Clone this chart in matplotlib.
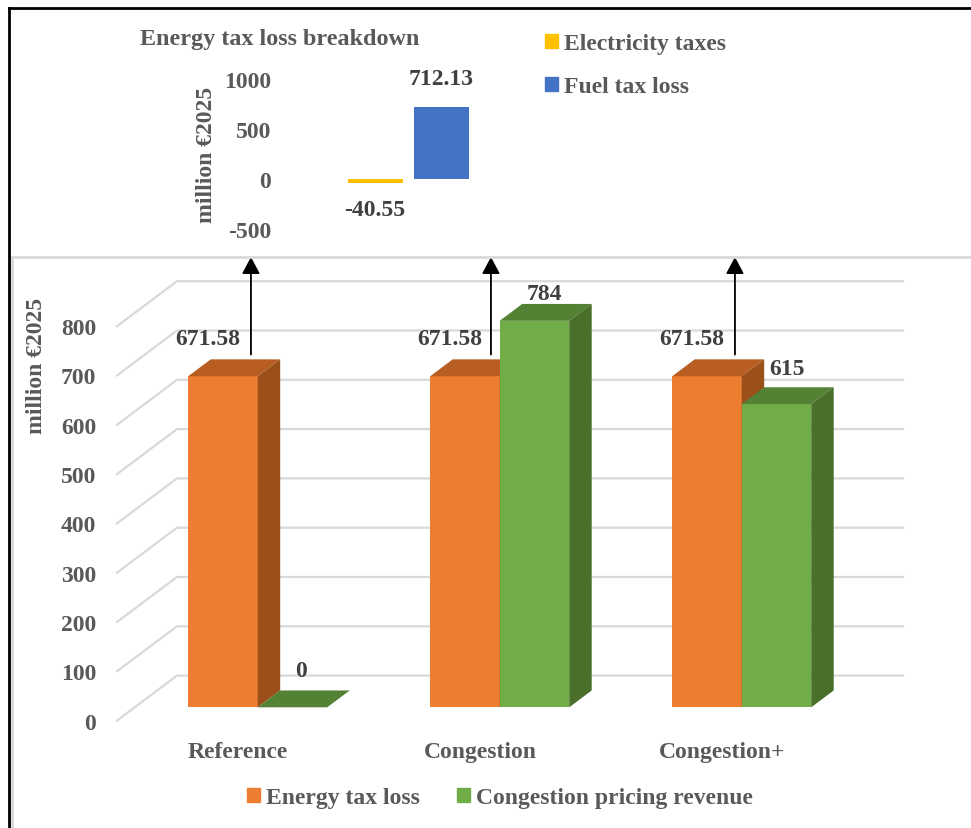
#!/usr/bin/env python3
"""Energy tax loss vs congestion pricing revenue, fake 3D bars plus a small breakdown chart."""

import matplotlib
matplotlib.use("Agg")
import matplotlib.pyplot as plt
from matplotlib.lines import Line2D
from matplotlib.patches import Patch

W, H = 971, 829

categories = ["Reference", "Congestion", "Congestion+"]
energy_tax_loss = [671.58, 671.58, 671.58]
congestion_revenue = [0, 784, 615]
y_ticks = [0, 100, 200, 300, 400, 500, 600, 700, 800]

breakdown_labels = ["Electricity taxes", "Fuel tax loss"]
breakdown_values = [-40.55, 712.13]
breakdown_ticks = [-500, 0, 500, 1000]

GREY = "#595959"
DARK = "#404040"
ORANGE = ("#ED7D31", "#B85E22", "#9C5019")  # front, top, side
GREEN = ("#70AD47", "#548235", "#4A6F2A")
GRID = "#D9D9D9"

plt.rcParams["font.family"] = ["Liberation Serif", "DejaVu Serif"]
plt.rcParams["font.weight"] = "bold"
plt.rcParams["axes.labelweight"] = "bold"
plt.rcParams["axes.unicode_minus"] = False
plt.rcParams["font.size"] = 17


def ax_rect(left, top, right, bottom):
    # pixel box (y from the top of the image) to figure fractions
    return [left / W, 1 - bottom / H, (right - left) / W, (bottom - top) / H]


def fig_xy(x, y):
    return x / W, 1 - y / H


fig = plt.figure(figsize=(W / 100, H / 100), dpi=100)

# ── Main chart ───────────────────────────────────────────────────────────
ax = fig.add_axes(ax_rect(117, 327.2, 843, 721.6))
ax.set_xlim(-0.5, 2.5)
ax.set_ylim(0, 800)
for s in ax.spines.values():
    s.set_visible(False)

# depth of the fake 3D box, in data units
DX = 60 / 242
DY = 45 / 0.493
BAR_FRONT, BAR_BACK = 0.295, 0.67
BAR_W = 69.5 / 242
BAR_SHIFT = 2 / 242


def proj(x, y, d):
    return x + d * DX, y + d * DY


for t in y_ticks:
    x0, y0 = proj(-0.5, t, 0)
    x1, y1 = proj(-0.5, t, 1)
    x2, y2 = proj(2.5, t, 1)
    ax.plot([x0, x1, x2], [y0, y1, y2], color=GRID, lw=1.6, clip_on=False, zorder=1)


def bar3d(x_left, value, colors, z):
    fx, fy = proj(x_left, 0, BAR_FRONT)
    ax.bar(fx, value, bottom=fy, width=BAR_W, align="edge", color=colors[0],
           clip_on=False, zorder=z)
    pts = [proj(x_left, value, BAR_FRONT), proj(x_left + BAR_W, value, BAR_FRONT),
           proj(x_left + BAR_W, value, BAR_BACK), proj(x_left, value, BAR_BACK)]
    ax.fill(*zip(*pts), color=colors[1], lw=0, clip_on=False, zorder=z)
    pts = [proj(x_left + BAR_W, 0, BAR_FRONT), proj(x_left + BAR_W, value, BAR_FRONT),
           proj(x_left + BAR_W, value, BAR_BACK), proj(x_left + BAR_W, 0, BAR_BACK)]
    ax.fill(*zip(*pts), color=colors[2], lw=0, clip_on=False, zorder=z)
    return fx + BAR_W / 2, fy + value


green_offsets = [(9, 37), (10, 27), (11, 36)]
arrow_offsets = [28, 26, 28]
for i, cat in enumerate(categories):
    tx, ty = bar3d(i - BAR_W + BAR_SHIFT, energy_tax_loss[i], ORANGE, 3)
    ax.annotate(f"{energy_tax_loss[i]:.2f}", (tx, ty), xytext=(-15, 38),
                textcoords="offset pixels", ha="center", va="center", color=DARK,
                annotation_clip=False, zorder=6)
    # arrow up to the breakdown panel
    ax.annotate("", xy=fig_xy(tx * 242 + 238 + arrow_offsets[i], 258), xycoords="figure fraction",
                xytext=(tx + arrow_offsets[i] / 242, ty + 44), textcoords="data",
                arrowprops=dict(arrowstyle="-|>,head_width=0.32,head_length=0.6",
                                color="black", lw=1.3, shrinkA=0, shrinkB=0),
                annotation_clip=False, zorder=6)
    tx, ty = bar3d(i + BAR_SHIFT, congestion_revenue[i], GREEN, 4)
    ax.annotate(f"{congestion_revenue[i]}", (tx, ty), xytext=green_offsets[i],
                textcoords="offset pixels", ha="center", va="center", color=DARK,
                annotation_clip=False, zorder=6)

ax.set_xticks(range(len(categories)), categories)
ax.set_yticks(y_ticks)
ax.tick_params(axis="both", length=0, colors=GREY)
ax.tick_params(axis="x", pad=15)
ax.tick_params(axis="y", pad=15)
ax.set_ylabel("million €2025", color=GREY)
ax.yaxis.set_label_coords((47 - 117) / 726, (721.6 - 366) / 394.4)

fig.legend(handles=[Patch(color=ORANGE[0], label="Energy tax loss"),
                    Patch(color=GREEN[0], label="Congestion pricing revenue")],
           loc="center", bbox_to_anchor=fig_xy(500, 799), ncols=2, frameon=False,
           handlelength=0.55, handleheight=0.55, handletextpad=0.25, columnspacing=1.55,
           labelcolor=GREY, borderpad=0)

# ── Breakdown chart ──────────────────────────────────────────────────────
ax2 = fig.add_axes(ax_rect(278, 79.7, 500, 229.7))
ax2.set_ylim(-500, 1000)
ax2.set_xlim((278 - 375) / 66.5, (500 - 375) / 66.5)
for s in ax2.spines.values():
    s.set_visible(False)
ax2.patch.set_alpha(0)
ax2.set_xticks([])
ax2.set_yticks(breakdown_ticks)
ax2.tick_params(axis="y", length=0, colors=GREY, pad=5)
ax2.set_ylabel("million €2025", color=GREY)
ax2.yaxis.set_label_coords((217 - 278) / 222, (229 - 154) / 150)

ax2.bar(range(2), breakdown_values, width=55 / 66.5, color=["#FFC000", "#4472C4"])
ax2.annotate(f"{breakdown_values[0]:.2f}", (0, breakdown_values[0]), xytext=(0, -27),
             textcoords="offset pixels", ha="center", va="center", color=DARK)
ax2.annotate(f"{breakdown_values[1]:.2f}", (1, breakdown_values[1]), xytext=(0, 29),
             textcoords="offset pixels", ha="center", va="center", color=DARK,
             annotation_clip=False)

fig.text(*fig_xy(280, 40), "Energy tax loss breakdown", ha="center", va="center",
         color=GREY, fontsize=17.4)
fig.legend(handles=[Patch(color=c, label=l) for c, l in zip(["#FFC000", "#4472C4"], breakdown_labels)],
           loc="upper left", bbox_to_anchor=fig_xy(545, 34), ncols=1, frameon=False,
           handlelength=0.55, handleheight=0.55, handletextpad=0.25, labelspacing=0.95,
           labelcolor=GREY, borderpad=0, borderaxespad=0)

# ── Panel frame ──────────────────────────────────────────────────────────
for xs, ys, col, lw in [((8.5, 8.5), (8.5, 829), "black", 2),
                        ((8.5, 971), (8.5, 8.5), "black", 2),
                        ((12, 12), (257.5, 829), GRID, 2),
                        ((12, 971), (257.5, 257.5), GRID, 2)]:
    fig.add_artist(Line2D([x / W for x in xs], [1 - y / H for y in ys], color=col, lw=lw))

fig.savefig("out.png", dpi=100)
